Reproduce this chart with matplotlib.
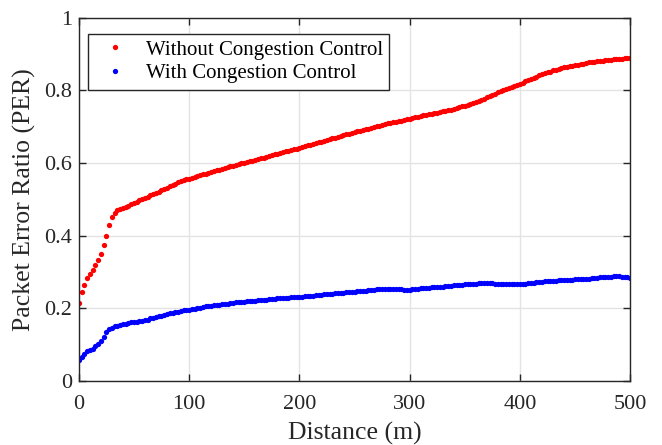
import numpy as np
import matplotlib
matplotlib.use("Agg")
import matplotlib.pyplot as plt

plt.rcParams['font.family'] = ['Liberation Serif', 'DejaVu Serif']

distance_step = 2.5
distance = np.arange(0, 500 + distance_step / 2, distance_step)

per_without = [
    .215, .245, .265, .283, .295, .305, .318, .332, .350, .375,
    .400, .430, .452, .462, .470, .474, .477, .479, .483, .486,
    .490, .492, .497, .500, .504, .507, .511, .514, .518, .521,
    .525, .528, .532, .537, .540, .543, .548, .550, .552, .556,
    .557, .559, .562, .564, .566, .569, .571, .573, .575, .578,
    .580, .582, .584, .587, .589, .591, .593, .595, .597, .600,
    .601, .603, .605, .607, .609, .611, .613, .615, .617, .620,
    .622, .624, .626, .628, .630, .632, .634, .636, .638, .640,
    .642, .644, .647, .649, .651, .653, .655, .657, .659, .662,
    .664, .666, .668, .670, .673, .675, .677, .679, .681, .683,
    .685, .687, .689, .691, .693, .695, .697, .699, .701, .703,
    .705, .707, .709, .711, .713, .714, .716, .717, .719, .721,
    .722, .724, .726, .727, .729, .731, .733, .734, .736, .737,
    .739, .741, .742, .744, .746, .747, .749, .751, .753, .756,
    .758, .760, .763, .765, .768, .771, .774, .777, .781, .784,
    .788, .791, .795, .798, .801, .805, .808, .810, .813, .815,
    .818, .821, .825, .828, .831, .835, .838, .842, .845, .847,
    .850, .852, .855, .857, .859, .862, .864, .865, .867, .868,
    .870, .871, .873, .874, .876, .877, .878, .879, .880, .881,
    .882, .883, .884, .885, .886, .886, .887, .887, .888, .888,
    .889,
]

per_with = [
    .058, .065, .075, .082, .086, .089, .095, .102, .110, .122,
    .134, .142, .147, .150, .152, .155, .157, .158, .160, .161,
    .162, .163, .164, .166, .167, .169, .172, .174, .176, .178,
    .180, .182, .184, .186, .188, .190, .191, .193, .194, .195,
    .196, .198, .199, .201, .202, .203, .205, .206, .207, .208,
    .209, .210, .211, .212, .213, .214, .215, .216, .217, .217,
    .218, .219, .220, .220, .221, .222, .223, .223, .224, .225,
    .226, .226, .227, .228, .228, .229, .229, .230, .230, .231,
    .231, .232, .233, .233, .234, .235, .236, .236, .237, .238,
    .239, .239, .240, .241, .242, .242, .243, .244, .245, .245,
    .246, .247, .248, .248, .249, .250, .251, .251, .252, .253,
    .254, .254, .254, .253, .253, .252, .252, .252, .251, .251,
    .251, .252, .253, .254, .255, .256, .257, .257, .258, .259,
    .259, .260, .260, .261, .262, .262, .263, .264, .265, .265,
    .266, .266, .267, .267, .268, .269, .269, .270, .270, .269,
    .269, .268, .268, .267, .267, .266, .266, .266, .267, .267,
    .267, .268, .268, .269, .270, .271, .272, .272, .273, .274,
    .275, .275, .276, .276, .277, .277, .278, .278, .279, .279,
    .280, .280, .281, .281, .282, .282, .283, .283, .284, .285,
    .286, .286, .287, .287, .288, .288, .288, .287, .286, .285,
    .284,
]

x_ticks = [0, 100, 200, 300, 400, 500]
y_ticks = [0, 0.2, 0.4, 0.6, 0.8, 1]
y_tick_labels = ['0', '0.2', '0.4', '0.6', '0.8', '1']

fig = plt.figure(figsize=(6.62, 4.45), dpi=100)
ax = fig.add_axes([0.119, 0.144, 0.833, 0.816])

ax.plot(distance, per_without, linestyle='none', marker='o', markersize=3.8,
        markeredgewidth=0, color='#ff0000', label='Without Congestion Control')
ax.plot(distance, per_with, linestyle='none', marker='o', markersize=3.8,
        markeredgewidth=0, color='#0000ff', label='With Congestion Control')

ax.set_xlim(0, 500)
ax.set_ylim(0, 1)
ax.set_xticks(x_ticks)
ax.set_yticks(y_ticks)
ax.set_yticklabels(y_tick_labels)
ax.grid(True, color='#e3e3e3', linewidth=1.0)
ax.set_axisbelow(True)
for s in ax.spines.values():
    s.set_color('#262626')
    s.set_linewidth(1.0)
ax.tick_params(direction='in', length=5, width=1.0, colors='#262626',
               labelsize=16, top=True, right=True)
ax.tick_params(axis='x', pad=10)
ax.tick_params(axis='y', pad=5)

ax.set_xlabel('Distance (m)', fontsize=18.5, color='#262626', labelpad=6)
ax.set_ylabel('Packet Error Ratio (PER)', fontsize=18.5, color='#262626', labelpad=6)

leg = ax.legend(loc='upper left', bbox_to_anchor=(0.016, 0.956), fontsize=15,
                frameon=True, fancybox=False, markerscale=1.0,
                handlelength=2.0, handletextpad=0.5, borderpad=0.3,
                labelspacing=0.2, borderaxespad=0)
leg.get_frame().set_edgecolor('#262626')
leg.get_frame().set_linewidth(1.0)
leg.get_frame().set_alpha(1.0)

fig.savefig('out.png', dpi=100)
